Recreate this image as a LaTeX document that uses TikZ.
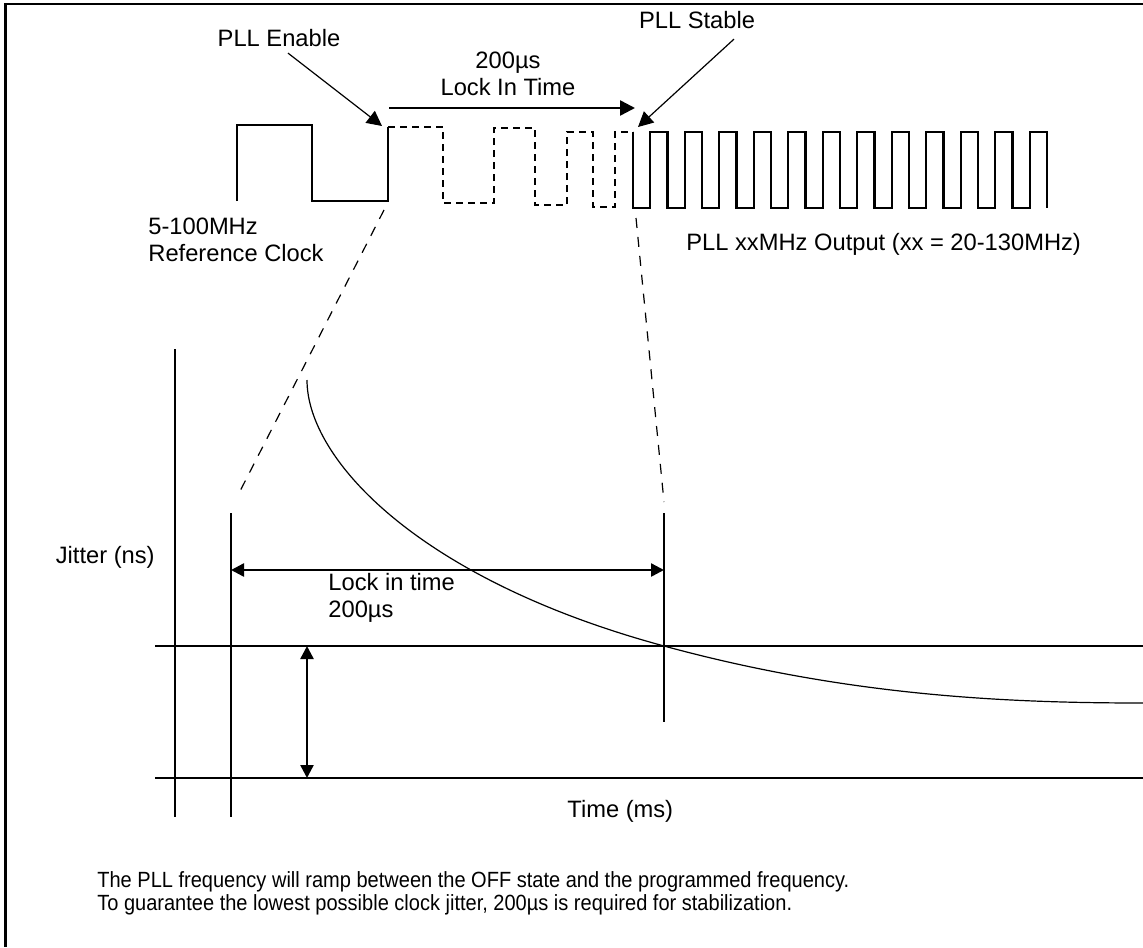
\documentclass[tikz,border=0pt]{standalone}
\usepackage{fontspec}
\setmainfont{Liberation Sans}
\usetikzlibrary{arrows.meta}

\begin{document}
\begin{tikzpicture}[x=0.5pt, y=-0.5pt,
  font=\fontsize{11.85}{13.75}\selectfont,
  lbl/.style={inner sep=0pt},
  wave/.style={line width=1.2pt},
  ramp/.style={line width=1.2pt, dash pattern=on 3.5pt off 2.5pt},
  guide/.style={line width=0.6pt, dash pattern=on 5pt off 4.5pt},
  pointer/.style={line width=0.6pt, -{Triangle[length=7.5pt, width=7.5pt]}},
  span/.style={line width=1.2pt, {Triangle[length=6.5pt, width=6.5pt]}-{Triangle[length=6.5pt, width=6.5pt]}},
]

  \useasboundingbox (0,0) rectangle (1143,947);

  % frame (top and left edge only)
  \draw[line width=1.2pt] (1143,4) -- (5.5,4) -- (5.5,947);

  % --- reference clock ---
  \draw[wave] (237,201) -- (237,125) -- (312,125) -- (312,201) -- (388,201) -- (388,127);
  \node[lbl, anchor=west, align=left] (refclk) at (148,240) {5-100MHz\\Reference Clock};

  % --- ramp while locking (dashed) ---
  \draw[ramp] (388,127) -- (443,127) -- (443,203) -- (494,203) -- (494,128) -- (535,128)
    -- (535,205) -- (567,205) -- (567,132) -- (593,132) -- (593,207) -- (615,207)
    -- (615,132) -- (633,132);

  % --- PLL output ---
  \draw[wave] (633,132) -- (633,208)
    \foreach \i in {1,...,12} { -- ++(17.25,0) -- ++(0,-76) -- ++(17.25,0) -- ++(0,76) };
  \node[lbl, anchor=west] (pllout) at (686,244) {PLL xxMHz Output (xx = 20-130MHz)};

  % --- pointers ---
  \node[lbl] (enable) at (279,38) {PLL Enable};
  \coordinate (enabletip) at (382,126);
  \draw[pointer] ([shift={(9,6)}]enable.south) -- (enabletip);

  \node[lbl] (stable) at (697,20) {PLL Stable};
  \coordinate (stabletip) at (638,127);
  \draw[pointer] ([shift={(37,10)}]stable.south) -- (stabletip);

  \node[lbl, align=center] (locktop) at (508,74) {200µs\\Lock In Time};
  \coordinate (lockA) at (389,108);
  \coordinate (lockB) at (635,108);
  \draw[line width=1.2pt, -{Triangle[length=7.5pt, width=7.5pt]}] (lockA) -- (lockB);

  % zoom lines down to the jitter plot
  \draw[guide] (384,210) -- (237,497);
  \draw[guide] (636,218) -- (664,502);

  % --- jitter plot ---
  \draw[wave] (175,349) -- (175,817);
  \draw[wave] (231,513) -- (231,817);
  \draw[wave] (664,513) -- (664,722);
  \draw[wave] (155,646) -- (1143,646);
  \draw[wave] (155,778) -- (1143,778);

  \coordinate (lockL) at (231,570);
  \coordinate (lockR) at (664,570);
  \draw[span] (lockL) -- (lockR);
  \coordinate (jitHi) at (307,646);
  \coordinate (jitLo) at (307,778);
  \draw[span] (jitHi) -- (jitLo);

  % jitter settling
  \draw[line width=0.6pt] (307,380) .. controls (307,460) and (420,580) .. (664,646)
    .. controls (844,695) and (1000,703) .. (1143,703);

  \node[lbl, anchor=east] (jitter) at (155,557) {Jitter (ns)};
  \node[lbl, anchor=west, align=left] (locklow) at (328,598) {Lock in time\\200µs};
  \node[lbl, anchor=west] (time) at (567,811) {Time (ms)};

  \node[lbl, anchor=west, align=left, font=\fontsize{11}{11.5}\selectfont, xscale=0.91] (note) at (97,893)
    {The PLL frequency will ramp between the OFF state and the programmed frequency.\\
     To guarantee the lowest possible clock jitter, 200µs is required for stabilization.};

\end{tikzpicture}
\end{document}
